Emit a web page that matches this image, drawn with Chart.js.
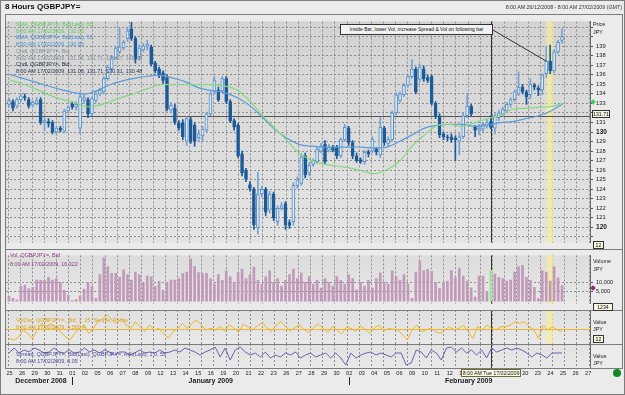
<!DOCTYPE html>
<html>
<head>
<meta charset="utf-8">
<title>8 Hours QGBPJPY=</title>
<script src="https://cdn.jsdelivr.net/npm/chart.js@4.4.1/dist/chart.umd.min.js"></script>
<style>
  html, body { margin: 0; padding: 0; }
  body { position: relative; width: 625px; height: 395px; overflow: hidden; background: #ebebeb;
         font-family: "Liberation Sans", Arial, sans-serif; }
  canvas.pane { position: absolute; left: 0; }
  .t { position: absolute; white-space: nowrap; font-size: 5.4px; line-height: 1; color: #222; z-index: 3; }
  .box { position: absolute; border: 1px solid #333; background: #f6f6e4; font-size: 5.2px; line-height: 6px;
         text-align: center; z-index: 4; box-sizing: border-box; white-space: nowrap; color: #111; }
  .rule { position: absolute; background: #7c7c7c; z-index: 2; }
  .diamond { position: absolute; width: 4px; height: 4px; transform: rotate(45deg); z-index: 4; }
</style>
</head>
<body>

<div class="rule" style="left:0;top:0;width:625px;height:1px"></div>
<div class="rule" style="left:0;top:394px;width:625px;height:1px"></div>
<div class="rule" style="left:0;top:0;width:1px;height:395px"></div>
<div class="rule" style="left:624px;top:0;width:1px;height:395px"></div>
<div class="rule" style="left:5px;top:14px;width:618px;height:1px"></div>
<div class="rule" style="left:5px;top:14px;width:1px;height:355px"></div>
<div class="rule" style="left:622px;top:14px;width:1px;height:355px"></div>
<div class="rule" style="left:5px;top:249px;width:618px;height:1px"></div>
<div class="rule" style="left:5px;top:310px;width:618px;height:1px"></div>
<div class="rule" style="left:5px;top:344px;width:618px;height:1px"></div>
<div class="rule" style="left:5px;top:368px;width:618px;height:1px"></div>

<canvas id="pricePane" class="pane" width="625" height="234" style="top:15px"></canvas>
<canvas id="volPane" class="pane" width="625" height="61" style="top:249px"></canvas>
<canvas id="oscPane" class="pane" width="625" height="34" style="top:310px"></canvas>
<canvas id="spreadPane" class="pane" width="625" height="51" style="top:344px"></canvas>

<div class="t" style="left:5px;top:3px;font-size:8px;font-weight:bold;color:#111">8 Hours QGBPJPY=</div>
<div class="t" style="right:3px;top:5px;font-size:5.3px;color:#333">8:00 AM 26/12/2008 - 8:00 AM 27/02/2009 (GMT)</div>

<div class="t" style="left:16px;top:22px;color:#5ccf5c">SMA, QGBPJPY=, Bid(Last), 55</div>
<div class="t" style="left:16px;top:28.7px;color:#5ccf5c">8:00 AM 17/02/2009, 132.05</div>
<div class="t" style="left:16px;top:35.4px;color:#4a90d0">EMA, QGBPJPY=, Bid(Last), 55</div>
<div class="t" style="left:16px;top:42.1px;color:#4a90d0">8:00 AM 17/02/2009, 130.65</div>
<div class="t" style="left:16px;top:48.8px;color:#7f8f96">Cndl, QGBPJPY=, Bid</div>
<div class="t" style="left:16px;top:55.5px;color:#7f8f96">8:00 AM 17/02/2009, 131.08, 131.71, 130.37, 130.48</div>
<div class="t" style="left:16px;top:62.2px;color:#1f2f4f">Cndl, QGBPJPY=, Bid</div>
<div class="t" style="left:16px;top:68.9px;color:#1f2f4f">8:00 AM 17/02/2009, 131.08, 131.71, 130.31, 130.48</div>

<div class="t" style="left:10px;top:253px;color:#8a3a80">Vol, QGBPJPY=, Bid</div>
<div class="t" style="left:10px;top:262px;color:#8a3a80">8:00 AM 17/02/2009, 16,322</div>
<div class="t" style="left:16px;top:318px;color:#d9a21a">VolOsc, QGBPJPY=, Bid, 1, 25, Simple, Points</div>
<div class="t" style="left:16px;top:325px;color:#d9a21a">8:00 AM 17/02/2009, 4,560.4</div>
<div class="t" style="left:16px;top:352px;color:#4a4a9a">Spread, QGBPJPY=, Bid(Last), QGBPJPY=, Ask(Last), 1.0, 55</div>
<div class="t" style="left:16px;top:359px;color:#4a4a9a">8:00 AM 17/02/2009, 0.05</div>

<div class="t" style="left:593px;top:22px">Price</div>
<div class="t" style="left:593px;top:30px">JPY</div>
<div class="t" style="left:593px;top:259px">Volume</div>
<div class="t" style="left:593px;top:267px">JPY</div>
<div class="t" style="left:593px;top:320px">Value</div>
<div class="t" style="left:593px;top:327px">JPY</div>
<div class="t" style="left:593px;top:354px">Value</div>
<div class="t" style="left:593px;top:361px">JPY</div>

<div class="box" style="left:592px;top:110px;width:18px;height:8px">131.71</div>
<div class="box" style="left:593px;top:241px;width:11px;height:8px">12</div>
<div class="box" style="left:593px;top:303px;width:20px;height:8px">1234</div>
<div class="box" style="left:593px;top:335px;width:11px;height:8px">12</div>
<div class="box" style="left:461px;top:369px;width:60px;height:8px;border-color:#6b6b3a;background:#fbfbe6">8:00 AM Tue 17/02/2009</div>
<div class="box" style="left:340px;top:24px;width:153px;height:11px;line-height:9px;font-size:5px;background:#f2f2f2">Inside Bar, lower Vol, increase Spread &amp; Vol on following bar</div>

<div class="diamond" style="left:591px;top:100px;background:#3fcf5f"></div>
<div class="diamond" style="left:591px;top:286px;background:#8a2a7a"></div>
<div style="position:absolute;left:613px;top:369px;width:8px;height:8px;border-radius:50%;background:#128a26;z-index:4"></div>

<script>
const FONT = '"Liberation Sans", Arial, sans-serif';

// x axis: trading days
const dayLabels = ['25','26','29','30','31','01','02','05','06','07','08','09','12','13','14','15','16','19','20','21','22','23',
  '26','27','28','29','30','02','03','04','05','06','09','10','11','12','13','16','17','18','19','20','23','24','25','26','27'];
const monthNames = ['December 2008', 'January 2009', 'February 2009'];
const monthStartDay = [0, 5, 27];

// 8 hour candles
const candleOpen = [
  132.9,133.2,132.7,133.4,133.7,133.4,132.8,133.0,133.4,131.0,
  131.1,131.0,130.0,130.4,130.1,132.2,132.9,132.6,130.4,133.3,
  133.4,131.9,133.3,134.0,134.2,135.6,136.6,137.8,138.4,138.8,
  139.8,140.8,139.8,137.9,138.6,139.0,138.9,137.2,136.6,136.2,
  135.7,132.3,132.5,130.9,131.0,129.0,131.3,130.7,129.4,129.6,
  130.2,131.9,134.2,134.4,134.3,135.6,133.2,131.2,130.7,127.7,
  126.0,124.5,124.0,120.0,123.5,124.0,121.8,123.5,120.6,122.0,
  122.5,120.5,120.6,124.4,124.6,127.5,125.7,126.6,126.9,128.0,
  128.7,128.1,128.4,128.4,127.5,129.2,130.4,128.9,127.5,127.1,
  126.9,127.9,128.0,128.2,127.6,130.4,128.8,129.2,132.0,133.3,
  133.9,134.9,135.8,136.6,135.5,136.6,135.7,135.8,133.0,131.7,
  129.8,129.5,129.5,129.4,129.0,129.5,131.7,132.7,130.5,130.2,
  130.3,130.7,131.08,130.4,131.5,131.9,132.2,132.9,133.4,134.0,
  134.7,134.2,133.9,134.9,134.6,134.4,136.1,137.4,136.4,138.4,
  139.6];
const candleHigh = [
  133.5,133.4,133.6,134.0,134.0,133.6,133.3,133.6,133.6,131.5,
  131.4,131.2,130.6,130.6,132.4,132.8,133.1,133.2,134.2,133.9,
  133.6,133.7,134.3,134.6,135.8,137.0,138.0,139.0,140.9,139.6,
  140.9,141.5,140.0,139.1,139.3,139.6,139.1,137.4,136.8,136.4,
  136.0,133.1,132.9,131.2,131.3,131.6,131.6,131.0,130.2,130.6,
  132.1,134.2,135.8,134.7,135.8,135.8,133.4,131.4,130.9,128.0,
  126.2,124.8,124.2,125.8,124.3,124.2,123.8,123.7,122.3,122.6,
  122.7,120.8,124.7,125.3,127.7,127.8,126.8,127.2,128.5,128.8,
  129.1,128.7,128.6,128.6,129.4,130.8,130.6,129.1,127.8,127.3,
  128.1,128.1,129.5,128.4,131.5,130.6,129.5,132.2,134.1,134.2,
  135.1,136.0,137.6,136.8,137.1,136.9,136.0,136.0,133.2,131.9,
  130.0,129.7,129.8,129.6,129.8,132.0,133.9,132.9,130.7,130.8,
  131.0,131.3,131.71,131.9,132.3,132.6,133.1,133.6,134.4,136.3,
  135.0,134.4,135.6,135.1,134.8,136.1,139.0,139.1,138.6,139.6,
  140.8];
const candleLow = [
  132.6,132.2,132.5,133.2,133.3,132.5,132.6,132.8,130.8,130.2,
  130.5,129.8,129.7,130.0,129.9,132.0,132.4,132.3,129.8,133.0,
  131.5,131.7,133.1,133.8,134.0,135.4,136.4,137.6,138.2,138.6,
  139.5,139.6,137.2,137.5,138.4,138.6,136.9,136.2,135.7,135.1,
  132.2,132.0,130.8,130.2,129.2,128.6,128.8,128.5,129.0,129.0,
  130.0,131.7,134.0,133.2,134.1,133.0,131.0,130.2,127.3,125.4,
  124.8,123.8,119.8,119.3,123.2,121.2,121.5,120.7,120.2,121.8,
  119.8,119.9,120.2,124.1,124.4,125.2,125.4,126.4,126.7,127.8,
  126.6,127.9,127.9,127.2,127.3,129.0,128.6,127.2,126.8,126.7,
  126.6,127.4,127.8,127.6,127.3,128.6,128.5,129.0,131.8,133.1,
  133.7,134.7,135.6,134.0,135.3,135.3,135.2,132.8,131.4,129.4,
  129.2,129.1,128.9,127.0,127.6,129.3,131.5,131.7,129.5,129.7,
  129.9,130.4,130.31,129.8,131.2,131.6,132.0,132.6,133.2,133.8,
  134.0,132.9,133.5,134.4,133.8,133.9,135.7,136.1,136.2,138.2,
  139.3];
const candleClose = [
  133.3,132.5,133.4,133.8,133.6,132.7,133.1,133.3,131.0,131.2,
  130.9,130.0,130.4,130.2,132.2,132.6,132.6,132.9,133.7,133.6,
  131.9,133.5,134.0,134.4,135.6,136.8,137.8,138.8,138.9,139.4,
  140.6,139.8,137.6,138.8,139.0,139.2,137.1,136.4,135.9,135.4,
  132.4,132.8,131.0,130.4,129.5,131.4,129.0,129.0,129.8,130.3,
  131.9,134.0,135.4,133.4,135.6,133.2,131.2,130.5,127.5,125.7,
  125.1,124.1,120.3,123.5,124.0,121.6,123.5,121.0,122.0,122.3,
  120.3,120.2,124.4,125.0,127.4,125.5,126.5,127.0,128.2,128.5,
  126.9,128.4,128.1,127.5,129.2,130.5,128.9,127.5,127.0,126.9,
  127.9,127.7,129.2,127.9,130.5,128.9,129.2,132.0,133.9,134.0,
  134.9,135.8,136.6,134.2,136.8,135.6,135.4,133.0,131.7,129.7,
  129.5,129.4,129.2,129.2,129.5,131.7,132.7,131.9,130.2,130.4,
  130.8,131.0,130.48,131.7,132.0,132.4,132.9,133.4,134.2,134.7,
  134.2,133.7,135.0,134.7,134.4,135.9,137.4,136.4,138.4,139.4,
  140.0];

// moving averages, one value per trading day (start of day)
const sma55 = [135.45,135.05,134.55,133.96,133.47,133.17,132.67,132.77,133.17,133.66,
  134.06,134.55,134.95,134.95,134.95,134.95,134.95,134.85,134.46,133.37,
  131.88,130.50,129.21,127.82,127.03,126.63,126.44,126.24,125.94,125.64,
  126.04,126.93,128.51,129.70,130.69,130.79,130.59,130.99,131.39,131.78,
  132.38,132.48,132.57,132.67,132.97];
const ema55 = [136.04,135.64,135.25,134.85,134.46,134.16,133.96,134.36,134.95,135.35,
  135.64,135.84,135.94,135.64,135.25,134.65,134.36,134.16,133.66,132.87,
  131.68,130.40,129.41,128.71,128.51,128.42,128.42,128.42,128.42,128.32,
  128.42,129.01,129.70,130.40,130.69,130.79,130.79,130.59,130.69,130.99,
  131.09,131.39,131.68,132.18,132.97];

// volume per candle
const volume = [
  2600,1500,600,7800,8500,6700,7400,11200,11000,11000,
  12600,11200,11900,9900,5700,3200,400,900,2900,6400,
  9900,7800,1500,14000,23000,18200,14700,14700,12600,16500,
  14000,11200,15400,14000,9900,13300,12900,7800,10500,5700,
  9900,11200,11200,11900,14700,15400,22400,18200,15100,14700,
  14700,12000,9000,14000,11000,16000,13000,10000,15000,17000,
  12000,14000,18000,11000,9000,13000,16000,10000,12000,8000,
  11000,14000,17000,12000,15000,10000,13000,9000,11000,7000,
  12000,10000,8000,13000,11000,9000,14000,12000,6000,10000,
  8000,11000,7000,12000,15000,10000,9000,16000,13000,11000,
  14000,9000,1500,15400,21200,16100,16800,15700,9900,6800,
  9900,10600,16100,12400,17500,13300,10600,7100,2200,13300,
  13300,5000,16322,14300,12600,11900,10600,11200,15400,18200,
  18900,12600,11000,7400,1500,16100,15400,10600,18200,12400,
  8200];

// volume oscillator and bid/ask spread, sampled along the chart
const volOsc = [
  -7500,-8800,-6900,-800,-3500,-7500,-800,4500,1900,4500,
  500,-2100,-6100,-8800,-3500,500,3200,-3500,500,5900,
  8500,11200,7200,4500,8500,3200,500,5900,1900,-2100,
  3200,-800,500,-3500,-7500,-2100,500,4500,500,4500,
  7200,3200,-800,500,-800,
  2000,-1500,3500,500,-2500,4000,1500,-800,2500,5000,
  1000,-2000,3000,6000,2000,-1500,1000,3500,-500,-3000,
  1500,4000,500,-2500,2000,-1000,-4000,1500,500,-2000,
  2500,-500,-3500,1000,3000,-1500,500,
  -300,-800,-4800,-8800,-800,3200,-2100,-800,500,-2100,
  -3500,-800,1900,-800,500,3200,-2100,-7500,1900,-800,
  3200,500,-800,1900,1900,3200,5900,4500,5900,1900,
  -800,-7500,3200,-800,1900,-800,-2100];
const spread = [
  0.045,0.050,0.045,0.048,0.046,0.050,0.048,0.045,0.046,0.050,
  0.046,0.045,0.048,0.045,0.046,0.050,0.046,0.048,0.045,0.048,
  0.046,0.043,0.046,0.046,0.043,0.045,0.048,0.045,0.046,0.045,
  0.048,0.045,0.046,0.048,0.046,0.050,0.048,0.046,0.043,0.046,
  0.048,0.051,0.041,0.050,0.038,0.048,0.051,0.046,0.043,0.045,
  0.041,0.046,0.040,0.043,0.041,0.045,0.043,0.046,0.040,0.043,
  0.045,0.041,0.043,0.045,0.040,0.045,0.040,0.033,0.045,0.040,
  0.043,0.045,0.046,0.043,0.045,0.043,0.041,0.045,0.045,0.033,
  0.035,0.048,0.046,0.040,0.048,0.045,0.038,0.050,0.051,0.046,
  0.050,0.045,0.048,0.043,0.048,0.040,0.050,0.046,0.048,0.050,
  0.048,0.050,0.048,0.045,0.041,0.045,0.043,0.040,0.045,0.045,
  0.045];

const crossBar = 122;      // 8:00 AM 17/02/2009
const insideBar = 137;     // highlighted "inside bar"

// ---- layout (page pixels) ----
const PLOT_LEFT = 6, PLOT_RIGHT = 590, AXIS_W = 35;
const BAR_X0 = 9, BAR_DX = 3.95;
const DAY_X0 = 9.5, DAY_DX = 12.58;
const GRID_X0 = 8.3, GRID_DX = 12.1;
const GRID_COLOR = '#8e8e8e';

function span(x0, dx) {
  return { min: (PLOT_LEFT - x0) / dx, max: (PLOT_RIGHT - x0) / dx };
}

function xScales(bottom) {
  const b = span(BAR_X0, BAR_DX), d = span(DAY_X0, DAY_DX), g = span(GRID_X0, GRID_DX);
  const xd = {
    type: 'linear', position: 'bottom', display: bottom, min: d.min, max: d.max, bounds: 'data',
    offset: false, grid: { offset: false, drawOnChartArea: false, drawTicks: false }, border: { display: false },
    afterBuildTicks: s => { s.ticks = dayLabels.map((_, i) => ({ value: i })); },
    ticks: { autoSkip: false, maxRotation: 0, minRotation: 0, padding: 2, color: '#222',
             font: { family: FONT, size: 5.6 }, callback: v => dayLabels[v] ?? '' }
  };
  if (bottom) xd.afterFit = s => { s.height = 27; };
  return {
    xb: { type: 'linear', display: false, min: b.min, max: b.max, bounds: 'data', offset: false, grid: { offset: false } },
    xd: xd,
    xg: {
      type: 'linear', position: 'bottom', min: g.min, max: g.max, bounds: 'data', offset: false,
      grid: { offset: false, color: GRID_COLOR, drawTicks: false }, border: { display: false, dash: [2, 2] },
      ticks: { display: false },
      afterBuildTicks: s => { const t = []; for (let i = 0; i <= 48; i++) t.push({ value: i }); s.ticks = t; }
    }
  };
}

function yScale(min, max, extra) {
  return Object.assign({
    type: 'linear', position: 'right', min: min, max: max, bounds: 'data',
    afterFit: s => { s.width = AXIS_W; },
    grid: { display: false },
    border: { display: true, color: '#6a6a6a' },
    ticks: { display: false }
  }, extra);
}

// backgrounds, crosshair, highlight band, reference lines, month row
const panelDeco = {
  id: 'panelDeco',
  beforeDraw(chart, args, o) {
    const { ctx, chartArea: a } = chart;
    const g = ctx.createLinearGradient(0, a.top, 0, a.bottom);
    g.addColorStop(0, o.bgTop || '#d8d8d8');
    g.addColorStop(1, o.bgBottom || '#e6e6e6');
    ctx.save();
    ctx.fillStyle = g;
    ctx.fillRect(a.left, a.top, a.width, a.height);
    ctx.restore();
  },
  beforeDatasetsDraw(chart, args, o) {
    const { ctx, chartArea: a, scales } = chart;
    const xb = scales.xb;
    ctx.save();
    if (o.band) {
      const x1 = xb.getPixelForValue(insideBar - 0.95), x2 = xb.getPixelForValue(insideBar + 0.75);
      ctx.fillStyle = 'rgba(247, 238, 150, 0.7)';
      ctx.fillRect(x1, a.top, x2 - x1, a.height);
    }
    if (o.zeroLine) {
      const y = Math.round(scales.y.getPixelForValue(0)) + 0.5;
      ctx.strokeStyle = o.zeroLine; ctx.lineWidth = 1;
      ctx.beginPath(); ctx.moveTo(a.left, y); ctx.lineTo(a.right, y); ctx.stroke();
    }
    if (o.hLine != null) {
      const y = Math.round(scales.y.getPixelForValue(o.hLine)) + 0.5;
      ctx.strokeStyle = '#555'; ctx.lineWidth = 1;
      ctx.beginPath(); ctx.moveTo(a.left, y); ctx.lineTo(a.right, y); ctx.stroke();
    }
    const cx = Math.round(xb.getPixelForValue(crossBar)) + 0.5;
    ctx.strokeStyle = '#333'; ctx.lineWidth = 1;
    ctx.beginPath(); ctx.moveTo(cx, a.top); ctx.lineTo(cx, a.bottom); ctx.stroke();
    ctx.restore();
  },
  afterDraw(chart, args, o) {
    const { ctx, chartArea: a, scales } = chart;
    ctx.save();
    if (o.callout) {
      const x = scales.xb.getPixelForValue(insideBar - 1);
      const y = scales.y.getPixelForValue(candleHigh[insideBar - 1]) + 15;
      ctx.strokeStyle = '#333'; ctx.lineWidth = 1;
      ctx.beginPath(); ctx.moveTo(o.callout[0], o.callout[1]); ctx.lineTo(x, y); ctx.stroke();
    }
    if (o.months) {
      const xd = scales.xd;
      const y = a.bottom + 13;
      ctx.font = 'bold 7px ' + FONT;
      ctx.fillStyle = '#222';
      ctx.textAlign = 'center'; ctx.textBaseline = 'middle';
      monthNames.forEach((m, i) => {
        const from = monthStartDay[i];
        const to = i + 1 < monthStartDay.length ? monthStartDay[i + 1] : dayLabels.length - 1;
        ctx.fillText(m, xd.getPixelForValue((from + to) / 2), y);
        if (i > 0) {
          const px = Math.round(xd.getPixelForValue(from)) + 0.5;
          ctx.strokeStyle = '#222';
          ctx.beginPath(); ctx.moveTo(px, y - 4); ctx.lineTo(px, y + 4); ctx.stroke();
        }
      });
    }
    ctx.restore();
  }
};

Chart.defaults.font.family = FONT;
Chart.defaults.animation = false;
Chart.defaults.events = [];
Chart.defaults.plugins.legend.display = false;
Chart.defaults.plugins.tooltip.enabled = false;

function makePanel(id, datasets, y, deco, bottom) {
  return new Chart(document.getElementById(id), {
    type: 'bar',
    data: { datasets: datasets },
    options: {
      responsive: false,
      layout: { padding: { left: PLOT_LEFT, right: 0, top: 0, bottom: 0 } },
      scales: Object.assign(xScales(bottom), { y: y }),
      plugins: { panelDeco: deco }
    },
    plugins: [panelDeco]
  });
}

const isUp = candleOpen.map((o, i) => candleClose[i] >= o);

makePanel('pricePane', [
  { type: 'line', xAxisID: 'xd', data: sma55.map((v, i) => ({ x: i, y: v })), borderColor: '#84d884',
    borderWidth: 1.2, pointRadius: 0, tension: 0.4, order: 0 },
  { type: 'line', xAxisID: 'xd', data: ema55.map((v, i) => ({ x: i, y: v })), borderColor: '#5b9bd5',
    borderWidth: 1.2, pointRadius: 0, tension: 0.4, order: 0 },
  { xAxisID: 'xb', data: candleOpen.map((o, i) => ({ x: i, y: [o, candleClose[i]] })), barThickness: 3, grouped: false,
    backgroundColor: isUp.map(u => u ? '#dae7f4' : '#1d5a98'), borderColor: isUp.map(u => u ? '#5b8fc5' : '#1d5a98'),
    borderWidth: 1, borderSkipped: false, order: 1 },
  { xAxisID: 'xb', data: candleLow.map((l, i) => ({ x: i, y: [l, candleHigh[i]] })), barThickness: 1, grouped: false,
    backgroundColor: isUp.map(u => u ? '#74a3d3' : '#1d5a98'), order: 2 }
], yScale(118.42, 141.58, {
  afterBuildTicks: s => { const t = []; for (let v = 119; v <= 141; v++) t.push({ value: v }); s.ticks = t; },
  grid: { color: GRID_COLOR, tickLength: 3, tickColor: '#555' },
  border: { display: true, color: '#6a6a6a', dash: [2, 2] },
  ticks: { display: true, autoSkip: false, padding: 3, color: '#222',
    font: c => ({ family: FONT, size: c.tick && c.tick.value % 10 === 0 ? 6.6 : 5.8,
                  weight: c.tick && c.tick.value % 10 === 0 ? 'bold' : 'normal' }),
    callback: v => (v >= 120 && v <= 139) ? String(v) : '' }
}), { bgTop: '#d3d3d3', bgBottom: '#e4e4e4', band: true, hLine: candleHigh[crossBar], callout: [493, 15] }, false);

makePanel('volPane', [
  { xAxisID: 'xb', data: volume.map((v, i) => ({ x: i, y: v })), barThickness: 2, grouped: false,
    backgroundColor: volume.map((v, i) => i === crossBar ? '#9ee39e' : '#c199ba') }
], yScale(-1250, 24170, {
  afterBuildTicks: s => { s.ticks = [{ value: 5000 }, { value: 10000 }]; },
  grid: { color: GRID_COLOR, tickLength: 3, tickColor: '#555' },
  border: { display: true, color: '#6a6a6a', dash: [2, 2] },
  ticks: { display: true, padding: 3, color: '#222', font: { family: FONT, size: 5.6 },
           callback: v => v.toLocaleString('en-US') }
}), { bgTop: '#dddddd', bgBottom: '#e8e8e8', band: true }, false);

const stepOsc = (candleOpen.length - 1) / (volOsc.length - 1);
makePanel('oscPane', [
  { type: 'line', xAxisID: 'xb', data: volOsc.map((v, i) => ({ x: i * stepOsc, y: v })), borderColor: '#f0b428',
    borderWidth: 1, pointRadius: 0, tension: 0 }
], yScale(-12000, 15200), { bgTop: '#e0e0e0', bgBottom: '#e8e8e8', band: true, zeroLine: '#efb52c' }, false);

const stepSpread = (candleOpen.length - 1) / (spread.length - 1);
makePanel('spreadPane', [
  { type: 'line', xAxisID: 'xb', data: spread.map((v, i) => ({ x: i * stepSpread, y: v })), borderColor: '#6a62b0',
    borderWidth: 1, pointRadius: 0, tension: 0 }
], yScale(0.030, 0.054), { bgTop: '#e2e2e2', bgBottom: '#e9e9e9', months: true }, true);
</script>
</body>
</html>
